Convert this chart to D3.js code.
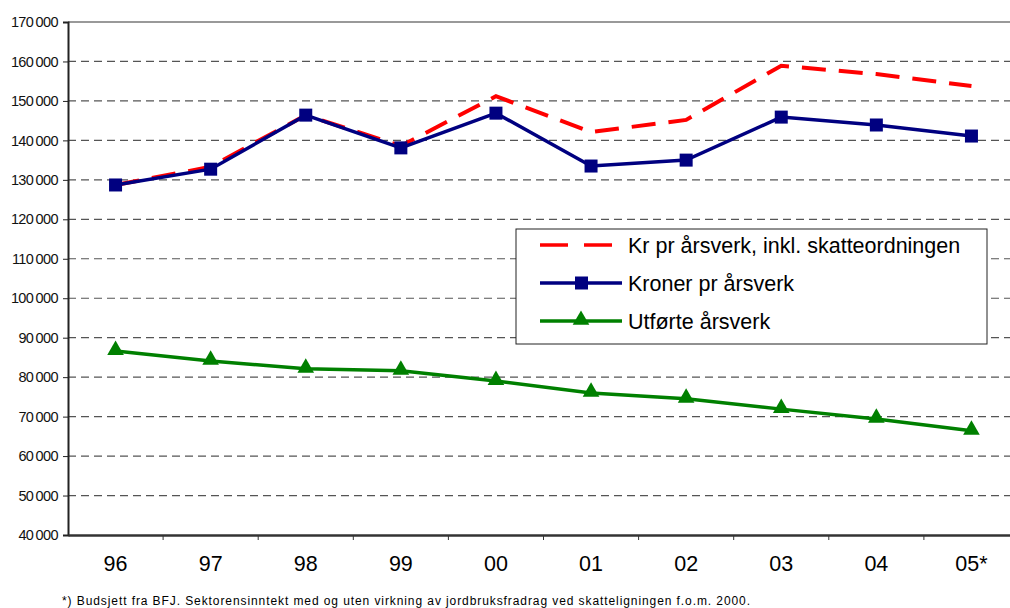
<!DOCTYPE html>
<html>
<head>
<meta charset="utf-8">
<script src="https://cdn.jsdelivr.net/npm/d3@7"></script>
<style>
body { margin: 0; background: #fff; }
svg { display: block; font-family: "Liberation Sans", Arial, sans-serif; }
</style>
</head>
<body>
<script>
// data
var years = ["96", "97", "98", "99", "00", "01", "02", "03", "04", "05*"];
var inklSkatt = [128700, 133300, 146400, 138600, 151200, 142100, 145200, 158900, 156800, 153800];
var kronerPrArsverk = [128700, 132700, 146400, 138100, 146900, 133500, 135000, 145900, 143900, 141100];
var utforteArsverk = [86600, 84100, 82100, 81600, 79000, 76000, 74500, 71900, 69400, 66400];
var yTicks = [40000, 50000, 60000, 70000, 80000, 90000, 100000, 110000, 120000, 130000, 140000, 150000, 160000, 170000];
var footnote = "*) Budsjett fra BFJ. Sektorensinntekt med og uten virkning av jordbruksfradrag ved skatteligningen f.o.m. 2000.";

var config = {
	width: 1010,
	height: 608,
	plot: { left: 68, top: 22, bottom: 535 },
	step: 95.1
}

var plotRight = config.plot.left + config.step * years.length;

var svg = d3.select("body").append("svg").attr("width", config.width).attr("height", config.height);

var x = d3.scaleBand().domain(years).range([config.plot.left, plotRight]);
var y = d3.scaleLinear().domain([40000, 170000]).range([config.plot.bottom, config.plot.top]);

// gridlines
svg.append("g").selectAll("line").data(yTicks.filter(function(d) { return d > 40000 && d < 170000; }))
	.enter().append("line")
	.attr("x1", config.plot.left).attr("x2", plotRight)
	.attr("y1", function(d) { return y(d); }).attr("y2", function(d) { return y(d); })
	.attr("stroke", "#555").attr("stroke-width", 1.2).attr("stroke-dasharray", "8,5");
svg.append("line").attr("x1", config.plot.left).attr("x2", plotRight).attr("y1", y(170000)).attr("y2", y(170000))
	.attr("stroke", "#777").attr("stroke-width", 1.5);

// y axis
var fmt = function(d) { return d3.format(",")(d).replace(",", "\u2009"); };
var yAxis = svg.append("g").attr("transform", "translate(" + config.plot.left + ",0)")
	.call(d3.axisLeft(y).tickValues(yTicks).tickSize(5).tickPadding(5).tickFormat(fmt));
yAxis.select(".domain").attr("stroke", "#222").attr("stroke-width", 2);
yAxis.selectAll(".tick line").attr("stroke", "#222");
yAxis.selectAll("text").attr("font-size", 14.5).attr("fill", "#111").attr("letter-spacing", "-0.6");

// x axis
var xAxis = svg.append("g").attr("transform", "translate(0," + config.plot.bottom + ")")
	.call(d3.axisBottom(x).tickSize(0).tickPadding(21));
xAxis.select(".domain").attr("stroke", "#333").attr("stroke-width", 2.5);
xAxis.selectAll("text").attr("font-size", 21.5).attr("fill", "#000");
svg.append("g").selectAll("line").data(years.slice(1)).enter().append("line")
	.attr("x1", function(d) { return x(d); }).attr("x2", function(d) { return x(d); })
	.attr("y1", config.plot.bottom).attr("y2", config.plot.bottom + 5).attr("stroke", "#333");

var cx = function(d, i) { return x(years[i]) + x.bandwidth() / 2; };
var line = d3.line().x(cx).y(function(d) { return y(d); });

// series
svg.append("path").datum(inklSkatt).attr("d", line).attr("fill", "none")
	.attr("stroke", "#ff0000").attr("stroke-width", 4).attr("stroke-dasharray", "24,13");

svg.append("path").datum(kronerPrArsverk).attr("d", line).attr("fill", "none")
	.attr("stroke", "#000080").attr("stroke-width", 3.5);
svg.append("g").selectAll("rect").data(kronerPrArsverk).enter().append("rect")
	.attr("x", function(d, i) { return cx(d, i) - 6.5; })
	.attr("y", function(d) { return y(d) - 6.5; })
	.attr("width", 13).attr("height", 13).attr("fill", "#000080");

svg.append("path").datum(utforteArsverk).attr("d", line).attr("fill", "none")
	.attr("stroke", "#008000").attr("stroke-width", 3.5);
var tri = d3.symbol().type(d3.symbolTriangle).size(120);
svg.append("g").selectAll("path").data(utforteArsverk).enter().append("path")
	.attr("d", tri)
	.attr("transform", function(d, i) { return "translate(" + cx(d, i) + "," + (y(d) - 1) + ")"; })
	.attr("fill", "#008000");

// legend
var lg = svg.append("g");
lg.append("rect").attr("x", 516).attr("y", 229).attr("width", 471).attr("height", 115)
	.attr("fill", "#fff").attr("stroke", "#222").attr("stroke-width", 1);
var items = [
	{ name: "Kr pr årsverk, inkl. skatteordningen", color: "#ff0000", dash: "28,16", mark: null },
	{ name: "Kroner pr årsverk", color: "#000080", dash: null, mark: "square" },
	{ name: "Utførte årsverk", color: "#008000", dash: null, mark: "tri" }
];
items.forEach(function(it, i) {
	var ly = 245 + i * 38;
	lg.append("line").attr("x1", 540).attr("x2", 622).attr("y1", ly).attr("y2", ly)
		.attr("stroke", it.color).attr("stroke-width", 3.5).attr("stroke-dasharray", it.dash);
	if (it.mark == "square") {
		lg.append("rect").attr("x", 575).attr("y", ly - 6.5).attr("width", 13).attr("height", 13).attr("fill", it.color);
	} else if (it.mark == "tri") {
		lg.append("path").attr("d", tri).attr("transform", "translate(581," + (ly - 1) + ")").attr("fill", it.color);
	}
	lg.append("text").attr("x", 628).attr("y", ly + 7.5).attr("font-size", 21.5).attr("fill", "#000").text(it.name);
});

// footnote
svg.append("text").attr("x", 62).attr("y", 605).attr("font-size", 12).attr("fill", "#000")
	.attr("textLength", 688).attr("lengthAdjust", "spacing").text(footnote);
</script>
</body>
</html>
